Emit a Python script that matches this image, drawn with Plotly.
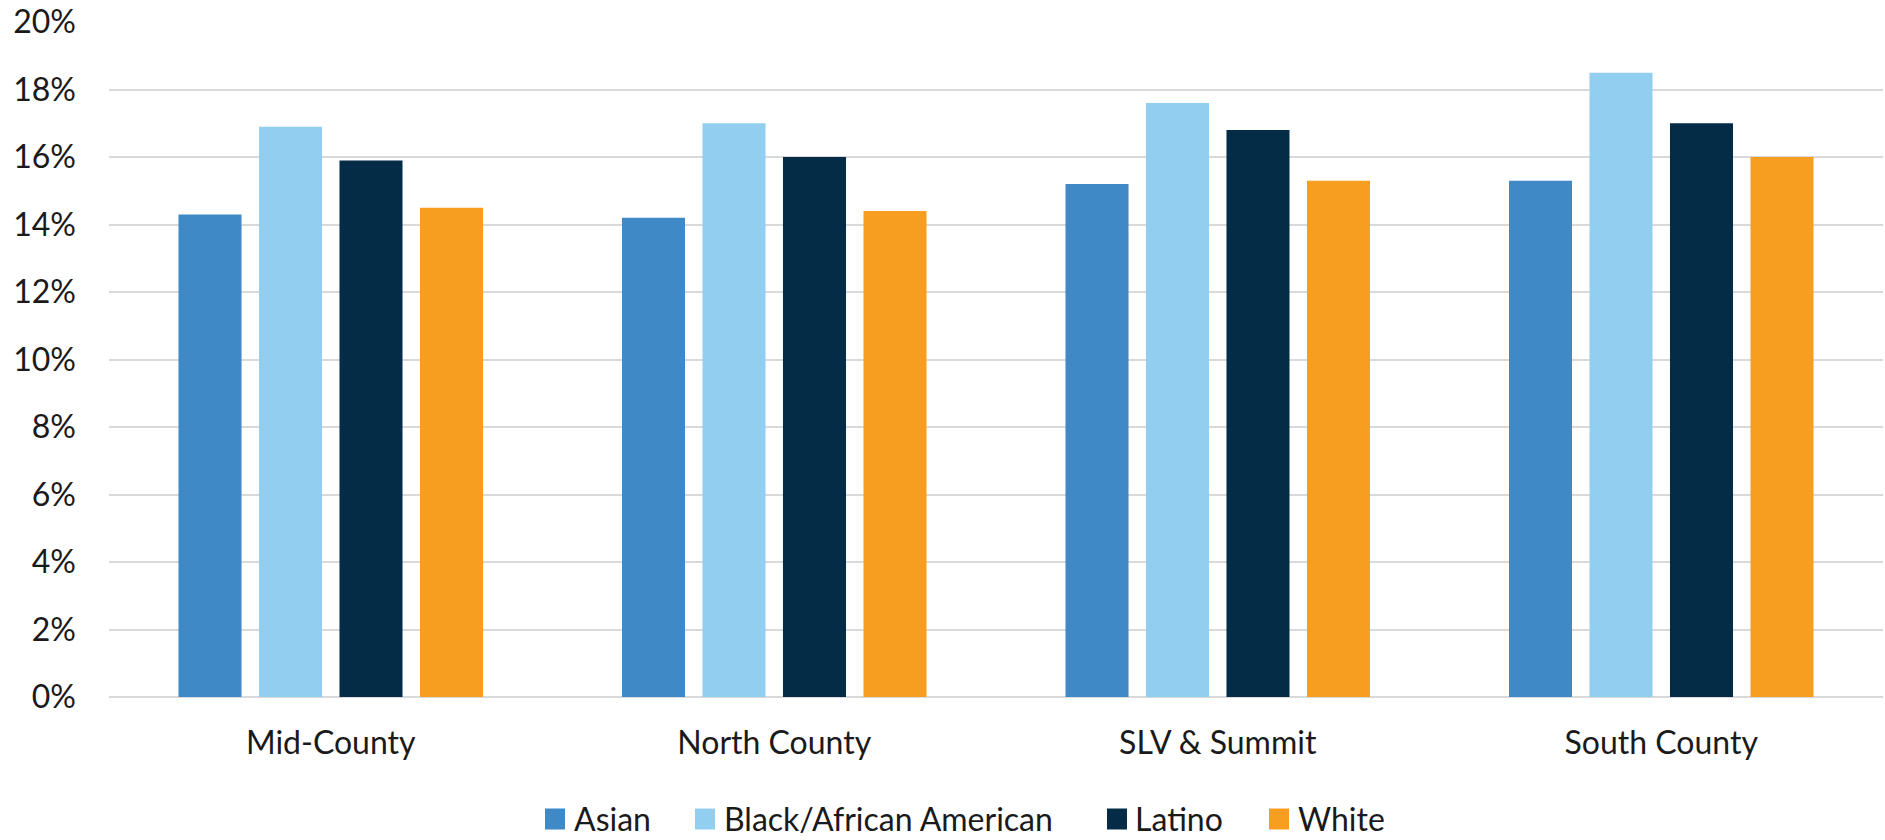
import plotly.graph_objects as go

# ---- data -------------------------------------------------------------
regions = ["Mid-County", "North County", "SLV & Summit", "South County"]
asian = [14.3, 14.2, 15.2, 15.3]
black_african_american = [16.9, 17.0, 17.6, 18.5]
latino = [15.9, 16.0, 16.8, 17.0]
white = [14.5, 14.4, 15.3, 16.0]

series_names = ["Asian", "Black/African American", "Latino", "White"]
series_values = [asian, black_african_american, latino, white]
series_colors = ["#3E89C6", "#92CEF0", "#052C46", "#F79E20"]

y_tick_values = [0, 2, 4, 6, 8, 10, 12, 14, 16, 18, 20]
y_tick_labels = [f"{v}%" for v in y_tick_values]

# ---- layout constants (pixels) -----------------------------------------
W, H = 1885, 840
M_L, M_R, M_T, M_B = 109, 2, 22, 143
PLOT_W = W - M_L - M_R
PLOT_H = H - M_T - M_B
FONT = "Lato"
FONT_SIZE = 32
TEXT_COLOR = "#1a1a1a"
GRID_COLOR = "#d9d9d9"


def px_to_paper_x(px):
    return (px - M_L) / PLOT_W


def px_to_paper_y(py):
    return (H - M_B - py) / PLOT_H


fig = go.Figure()
for name, vals, color in zip(series_names, series_values, series_colors):
    fig.add_trace(
        go.Bar(
            name=name,
            x=regions,
            y=vals,
            marker=dict(color=color, line=dict(width=0)),
            showlegend=False,
        )
    )

# legend drawn as swatches + labels below the category axis
legend_swatch_left = [545, 695, 1107, 1269]
legend_text_left = [573, 723, 1134, 1297]
swatch_w, swatch_h = 20, 21
legend_center_y = 818

shapes = []
annotations = []
for name, color, sx, tx in zip(series_names, series_colors, legend_swatch_left, legend_text_left):
    shapes.append(
        dict(
            type="rect",
            xref="paper",
            yref="paper",
            x0=px_to_paper_x(sx),
            x1=px_to_paper_x(sx + swatch_w),
            y0=px_to_paper_y(legend_center_y - swatch_h / 2 + 1),
            y1=px_to_paper_y(legend_center_y + swatch_h / 2 + 1),
            fillcolor=color,
            line=dict(width=0),
            layer="above",
        )
    )
    annotations.append(
        dict(
            text=name,
            xref="paper",
            yref="paper",
            x=px_to_paper_x(tx),
            y=px_to_paper_y(legend_center_y),
            xanchor="left",
            yanchor="middle",
            borderpad=0,
            showarrow=False,
            font=dict(family=FONT, size=FONT_SIZE, color=TEXT_COLOR),
        )
    )

fig.update_layout(
    width=W,
    height=H,
    margin=dict(l=M_L, r=M_R, t=M_T, b=M_B, pad=0),
    paper_bgcolor="white",
    plot_bgcolor="white",
    barmode="group",
    bargap=0.274,
    bargroupgap=0.217,
    font=dict(family=FONT, size=FONT_SIZE, color=TEXT_COLOR),
    shapes=shapes,
    annotations=annotations,
    showlegend=False,
)
fig.update_xaxes(
    showgrid=False,
    showline=False,
    ticks="",
    ticklabelstandoff=24,
    tickfont=dict(family=FONT, size=FONT_SIZE, color=TEXT_COLOR),
)
fig.update_yaxes(
    range=[0, 20],
    tickvals=y_tick_values,
    ticktext=y_tick_labels,
    showgrid=True,
    gridcolor=GRID_COLOR,
    gridwidth=2,
    zeroline=True,
    zerolinecolor=GRID_COLOR,
    zerolinewidth=2,
    showline=False,
    ticks="",
    ticklabelstandoff=32,
    tickfont=dict(family=FONT, size=FONT_SIZE, color=TEXT_COLOR),
)

fig.write_html("out.html")
